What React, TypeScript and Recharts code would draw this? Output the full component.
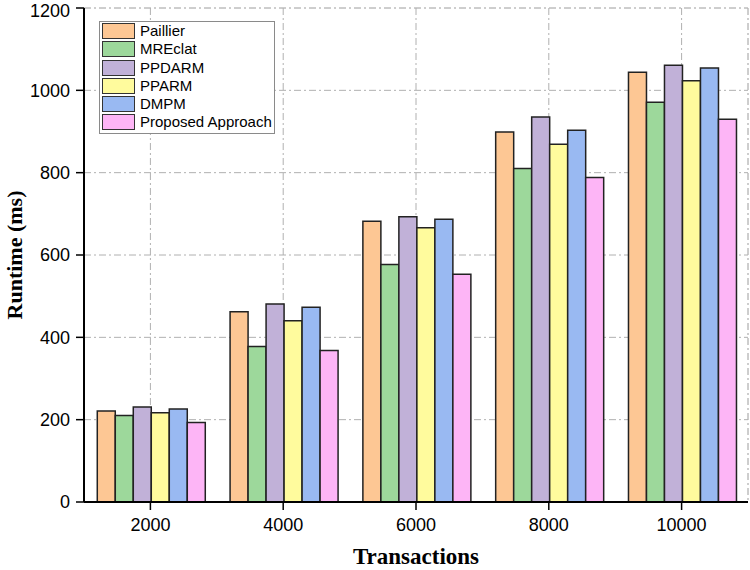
import React from 'react';
import { BarChart, Bar, XAxis, YAxis, CartesianGrid, Legend } from 'recharts';

const categories = ['2000', '4000', '6000', '8000', '10000'];
const paillier = [221, 462, 682, 899, 1044];
const mreclat = [210, 378, 577, 810, 971];
const ppdarm = [231, 481, 693, 935, 1061];
const pparm = [217, 440, 666, 869, 1023];
const dmpm = [226, 473, 687, 903, 1054];
const proposed = [193, 368, 553, 788, 930];
const yTicks = [0, 200, 400, 600, 800, 1000, 1200];
const yMinorTicks = [100, 300, 500, 700, 900, 1100];
const rightTicks = [120, 240, 360, 480, 600, 720, 840, 960, 1080];
const boundaryTicks = [0, 1, 2, 3, 4, 5];

const series = [
  { key: 'paillier', name: 'Paillier', color: '#FDC794', values: paillier },
  { key: 'mreclat', name: 'MREclat', color: '#9DD89B', values: mreclat },
  { key: 'ppdarm', name: 'PPDARM', color: '#C1B1D8', values: ppdarm },
  { key: 'pparm', name: 'PPARM', color: '#FFFB9D', values: pparm },
  { key: 'dmpm', name: 'DMPM', color: '#99B9F2', values: dmpm },
  { key: 'proposed', name: 'Proposed Approach', color: '#FDB5F6', values: proposed },
];

const data = categories.map((c, i) => {
  const row: Record<string, any> = { name: c };
  series.forEach((s) => {
    row[s.key] = s.values[i];
  });
  return row;
});

const tickFont = { fontFamily: 'Liberation Sans, Arial, sans-serif', fontSize: 18, fill: '#000' };

const LegendBox = (props: any) => {
  const payload = (props.payload || []).slice();
  const order = series.map((s) => s.name);
  payload.sort((a: any, b: any) => order.indexOf(a.value) - order.indexOf(b.value));
  return (
    <div
      style={{
        border: '1.5px solid #8a8a8a',
        background: '#fff',
        padding: '1px 2px 0px 2px',
        fontFamily: 'Liberation Sans, Arial, sans-serif',
        fontSize: 15,
        color: '#000',
        width: 170,
      }}
    >
      {payload.map((p: any) => (
        <div key={p.value} style={{ display: 'flex', alignItems: 'center', height: 16, marginBottom: 2.3 }}>
          <div
            style={{
              width: 31,
              height: 14,
              background: p.color,
              border: '1px solid #333',
              marginRight: 5,
              flexShrink: 0,
            }}
          />
          <span style={{ lineHeight: '16px', whiteSpace: 'nowrap' }}>{p.value}</span>
        </div>
      ))}
    </div>
  );
};

const YLabel = (props: any) => {
  const vb = props.viewBox || {};
  const cx = vb.x + 14;
  const cy = vb.y + vb.height / 2;
  return (
    <text
      x={cx}
      y={cy}
      transform={`rotate(-90, ${cx}, ${cy})`}
      textAnchor="middle"
      dominantBaseline="central"
      style={{ fontFamily: 'Liberation Serif, Times New Roman, serif', fontWeight: 'bold', fontSize: 22, fill: '#000' }}
    >
      Runtime (ms)
    </text>
  );
};

const XLabel = (props: any) => {
  const vb = props.viewBox || {};
  const cx = vb.x + vb.width / 2;
  const cy = vb.y + 54;
  return (
    <text
      x={cx}
      y={cy}
      textAnchor="middle"
      dominantBaseline="central"
      style={{ fontFamily: 'Liberation Serif, Times New Roman, serif', fontWeight: 'bold', fontSize: 23, fill: '#000' }}
    >
      Transactions
    </text>
  );
};

export default function App() {
  return (
    <div style={{ position: 'absolute', left: 0, top: 0, width: 750, height: 570, background: '#fff' }}>
      <BarChart
        width={750}
        height={570}
        data={data}
        margin={{ top: 8, right: 2, left: 0, bottom: 0 }}
        barCategoryGap="10%"
        barGap={0}
      >
        <CartesianGrid xAxisId="xb" yAxisId="ym" stroke="#d6d6d6" strokeDasharray="7 3 2 3" />
        <CartesianGrid xAxisId="x" yAxisId="y" stroke="#b0b0b0" strokeDasharray="7 3 2 3" />
        <XAxis
          xAxisId="xb"
          type="number"
          domain={[0, 5]}
          allowDataOverflow
          ticks={boundaryTicks}
          height={0}
          tickSize={4}
          tick={false}
          axisLine={false}
          tickLine={{ stroke: '#000', strokeWidth: 1.5 }}
        />
        <XAxis
          xAxisId="x"
          dataKey="name"
          height={68}
          tickSize={8}
          tickMargin={8}
          tick={tickFont}
          axisLine={{ stroke: '#000', strokeWidth: 2 }}
          tickLine={{ stroke: '#000', strokeWidth: 1.5 }}
          label={<XLabel />}
        />
        <XAxis
          xAxisId="xt"
          orientation="top"
          type="number"
          domain={[0, 5]}
          allowDataOverflow
          ticks={boundaryTicks}
          height={0}
          mirror
          tickSize={5}
          tick={false}
          axisLine={{ stroke: '#000', strokeWidth: 2 }}
          tickLine={{ stroke: '#000', strokeWidth: 1.5 }}
        />
        <YAxis
          yAxisId="ym"
          domain={[0, 1200]}
          ticks={yMinorTicks}
          width={0}
          tickSize={4}
          tick={false}
          axisLine={false}
          tickLine={{ stroke: '#000', strokeWidth: 1.5 }}
        />
        <YAxis
          yAxisId="y"
          domain={[0, 1200]}
          ticks={yTicks}
          width={84}
          tickSize={8}
          tickMargin={6}
          tick={tickFont}
          axisLine={{ stroke: '#000', strokeWidth: 2 }}
          tickLine={{ stroke: '#000', strokeWidth: 1.5 }}
          label={<YLabel />}
        />
        <YAxis
          yAxisId="yr"
          orientation="right"
          domain={[0, 1200]}
          ticks={rightTicks}
          width={0}
          mirror
          tickSize={5}
          tick={false}
          axisLine={{ stroke: '#000', strokeWidth: 2 }}
          tickLine={{ stroke: '#000', strokeWidth: 1.5 }}
        />
        <Legend
          layout="vertical"
          align="center"
          verticalAlign="middle"
          wrapperStyle={{ left: 99, top: 21, width: 'auto' }}
          content={<LegendBox />}
        />
        {series.map((s) => (
          <Bar
            key={s.key}
            xAxisId="x"
            yAxisId="y"
            dataKey={s.key}
            name={s.name}
            fill={s.color}
            stroke="#222"
            strokeWidth={1.5}
            isAnimationActive={false}
          />
        ))}
      </BarChart>
    </div>
  );
}
